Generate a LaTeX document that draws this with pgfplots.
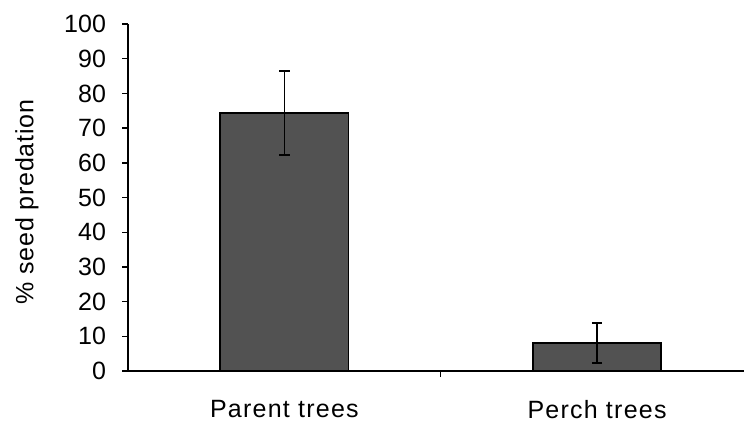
\documentclass[border=0pt]{standalone}
\usepackage{fontspec}
\setmainfont{Liberation Sans}
\usepackage{pgfplots}
\pgfplotsset{compat=1.18}
\begin{document}
\begin{tikzpicture}
\path[use as bounding box] (0,0) rectangle (372pt,212.5pt);
\begin{axis}[
  at={(64pt,27pt)}, anchor=south west,
  scale only axis, width=308pt, height=173.5pt,
  xmin=-0.5, xmax=1.47, ymin=0, ymax=100,
  axis lines*=left,
  axis line style={line width=0.8pt},
  ytick={0,10,...,100},
  tick align=outside,
  major tick length=3pt,
  tick style={line width=0.7pt, black},
  yticklabel style={font=\fontsize{12.5}{14}\selectfont, xshift=-4.5pt},
  /pgf/number format/assume math mode=true,
  xtick={0,1},
  xticklabels={Parent trees, Perch trees},
  xticklabel style={font=\fontsize{12.5}{14}\selectfont\addfontfeature{LetterSpace=5}, yshift=-8pt},
  xtick style={draw=none},
  extra x ticks={0.5},
  extra x tick labels={},
  extra x tick style={xtick style={draw=black, line width=0.7pt}, major tick length=3pt},
  clip=false,
]
\addplot[ybar, bar width=0.41, fill=black!68, draw=black, line width=0.8pt,
  error bars/.cd, y dir=both, y explicit,
  error bar style={line width=0.8pt, black},
  error mark options={rotate=90, mark size=2.6pt, line width=0.8pt, black}]
  coordinates {(0,74.4) +- (0,12.1) (1,8.1) +- (0,5.8)};
\end{axis}
\node[rotate=90, font=\fontsize{12.5}{14}\selectfont\addfontfeature{LetterSpace=3}] at (13.5pt,111.5pt) {\% seed predation};
\end{tikzpicture}
\end{document}
